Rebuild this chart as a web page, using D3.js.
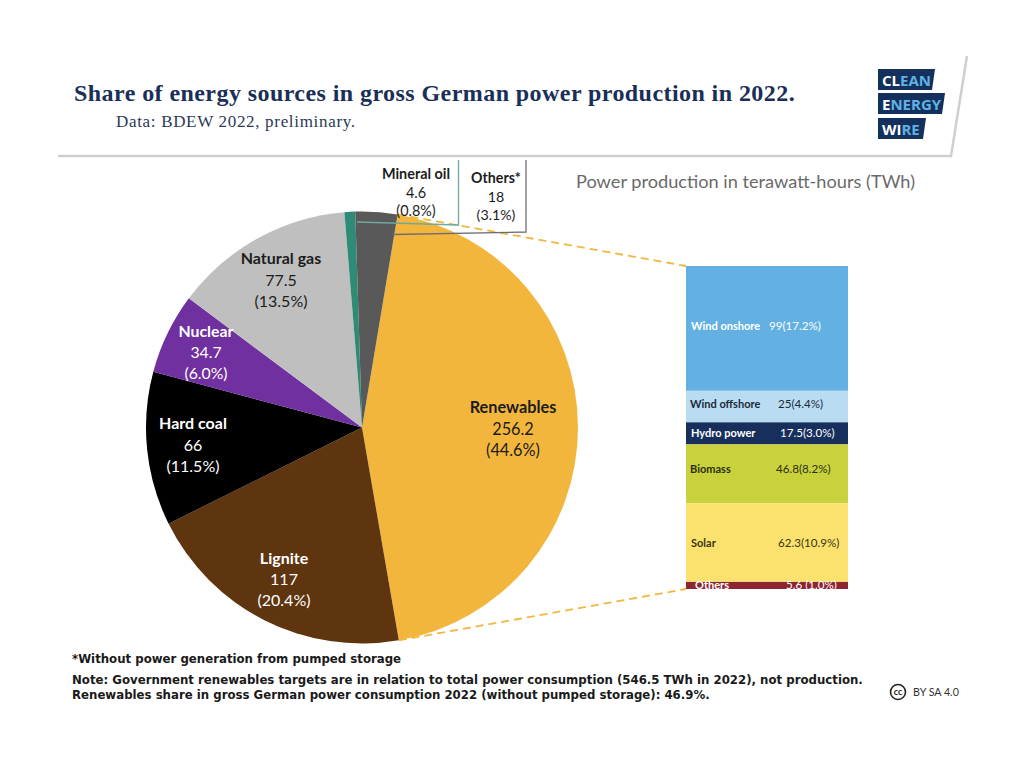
<!DOCTYPE html>
<html>
<head>
<meta charset="utf-8">
<title>Share of energy sources in gross German power production in 2022</title>
<script src="https://cdn.jsdelivr.net/npm/d3@7/dist/d3.min.js"></script>
<style>
	html, body { margin: 0; padding: 0; background: #fff; }
	svg { display: block; }
	text { font-family: Lato, "Open Sans", sans-serif; }
</style>
</head>
<body>
<div id="chart"></div>
<script>
'use strict';

// pie, clockwise from the top
var sources = ['Renewables', 'Lignite', 'Hard coal', 'Nuclear', 'Natural gas', 'Mineral oil', 'Others*'];
var sourceValues = [256.2, 117, 66, 34.7, 77.5, 4.6, 18];
var sourceValueLabels = ['256.2', '117', '66', '34.7', '77.5', '4.6', '18'];
var sourceShares = ['(44.6%)', '(20.4%)', '(11.5%)', '(6.0%)', '(13.5%)', '(0.8%)', '(3.1%)'];
var sourceColors = ['#f3b63c', '#5f3510', '#000000', '#7030a0', '#bfbfbf', '#2f8b76', '#595959'];

// renewables breakdown, top to bottom
var renewables = ['Wind onshore', 'Wind offshore', 'Hydro power', 'Biomass', 'Solar', 'Others'];
var renewableValues = [99, 25, 17.5, 46.8, 62.3, 5.6];
var renewableLabels = ['99(17.2%)', '25(4.4%)', '17.5(3.0%)', '46.8(8.2%)', '62.3(10.9%)', '5.6 (1.0%)'];
var renewableColors = ['#62b1e2', '#b9dcf1', '#172f5c', '#c9d23c', '#fbe26e', '#8e2632'];
var renewableText = ['#ffffff', '#1b2a3a', '#ffffff', '#2b2f10', '#3a3410', '#ffffff'];

var width = 1024, height = 778;
var pieCx = 362, pieCy = 427.5, pieR = 216;
var barX = 686, barW = 162, barTop = 266, barBottom = 589;
var rad = Math.PI / 180;

var svg = d3.select('#chart').append('svg')
	.attr('width', width)
	.attr('height', height);

// header frame
svg.append('path')
	.attr('d', 'M58,156 L951,156 L967,56')
	.attr('fill', 'none')
	.attr('stroke', '#cfcfcf')
	.attr('stroke-width', 2.5);

svg.append('text')
	.attr('x', 74).attr('y', 101)
	.style('font-family', '"Liberation Serif", serif')
	.style('font-weight', 'bold')
	.style('font-size', '24px')
	.style('letter-spacing', '0.43px')
	.attr('fill', '#1a2f57')
	.text('Share of energy sources in gross German power production in 2022.');

svg.append('text')
	.attr('x', 116).attr('y', 127)
	.style('font-family', '"Liberation Serif", serif')
	.style('font-size', '17px')
	.style('letter-spacing', '0.68px')
	.attr('fill', '#2b3a55')
	.text('Data: BDEW 2022, preliminary.');

// logo
var logoLines = [['CL', 'EAN'], ['E', 'NERGY'], ['WI', 'RE']];
var logoRight = [935, 945, 926];
var logoTop = [69, 93, 118];
var logo = svg.append('g');
logoLines.forEach(function(l, i) {
	var y = logoTop[i], r = logoRight[i];
	logo.append('path')
		.attr('d', 'M878,' + y + 'L' + r + ',' + y + 'L' + (r - 3) + ',' + (y + 21) + 'L878,' + (y + 21) + 'Z')
		.attr('fill', '#14305c');
	var t = logo.append('text')
		.attr('x', 882).attr('y', y + 16.5)
		.style('font-family', '"Open Sans", sans-serif')
		.style('font-weight', 'bold')
		.style('font-size', '15px');
	t.append('tspan').attr('fill', '#ffffff').text(l[0]);
	t.append('tspan').attr('fill', '#5fb2e3').text(l[1]);
});

// pie
var pie = d3.pie()
	.sort(null)
	.startAngle(9.5 * rad)
	.endAngle(369.5 * rad);
var arc = d3.arc().innerRadius(0).outerRadius(pieR);

var slices = pie(sourceValues);

svg.append('g')
	.attr('transform', 'translate(' + pieCx + ',' + pieCy + ')')
	.selectAll('path')
	.data(slices)
	.join('path')
	.attr('d', arc)
	.attr('fill', function(d, i) { return sourceColors[i]; });

// dashed zoom lines, from the renewables slice edges to the bar corners
var y = d3.scaleLinear()
	.domain([0, d3.sum(renewableValues)])
	.range([barTop, barBottom]);

var edgeX = function(a) { return pieCx + pieR * Math.sin(a); };
var edgeY = function(a) { return pieCy - pieR * Math.cos(a); };
var zoomLines = [
	[edgeX(slices[0].startAngle), edgeY(slices[0].startAngle), barX, y.range()[0]],
	[edgeX(slices[0].endAngle), edgeY(slices[0].endAngle), barX, y.range()[1]]
];
svg.append('g')
	.selectAll('line')
	.data(zoomLines)
	.join('line')
	.attr('x1', function(d) { return d[0]; })
	.attr('y1', function(d) { return d[1]; })
	.attr('x2', function(d) { return d[2]; })
	.attr('y2', function(d) { return d[3]; })
	.attr('stroke', '#f0b840')
	.attr('stroke-width', 1.8)
	.attr('stroke-dasharray', '8 5');

// callout brackets for the two thin slices
svg.append('path')
	.attr('d', 'M458.5,160 L458.5,225 L357,222')
	.attr('fill', 'none')
	.attr('stroke', '#6fa89c')
	.attr('stroke-width', 1.3);
svg.append('path')
	.attr('d', 'M526,160 L526,232 L393,234.5')
	.attr('fill', 'none')
	.attr('stroke', '#6d6d78')
	.attr('stroke-width', 1.3);

// pie labels: name, value, share
var labelX = [513, 284, 193, 206, 281, 416, 496];
var labelY = [413, 564, 429, 337, 264, 179, 183];
var labelStep = [21.5, 21, 21.5, 21, 21.5, 18.5, 18.5];
var labelSize = [16.3, 16, 16, 15.8, 16, 14.4, 14.2];
var labelFill = ['#1c1c1c', '#ffffff', '#ffffff', '#ffffff', '#1c1c1c', '#1c1c1c', '#1c1c1c'];

sources.forEach(function(name, i) {
	var g = svg.append('g')
		.attr('text-anchor', 'middle')
		.attr('fill', labelFill[i])
		.style('font-size', labelSize[i] + 'px');
	g.append('text').attr('x', labelX[i]).attr('y', labelY[i])
		.style('font-weight', 'bold').text(name);
	g.append('text').attr('x', labelX[i]).attr('y', labelY[i] + labelStep[i])
		.text(sourceValueLabels[i]);
	g.append('text').attr('x', labelX[i]).attr('y', labelY[i] + 2 * labelStep[i])
		.text(sourceShares[i]);
});

svg.append('text')
	.attr('x', 576).attr('y', 188)
	.style('font-size', '18.2px')
	.attr('fill', '#6a6a6a')
	.text('Power production in terawatt-hours (TWh)');

// stacked bar
var stack = [];
renewableValues.reduce(function(sum, v, i) {
	stack.push({ i: i, y0: sum, y1: sum + v });
	return sum + v;
}, 0);

svg.append('g')
	.selectAll('rect')
	.data(stack)
	.join('rect')
	.attr('x', barX)
	.attr('width', barW)
	.attr('y', function(d) { return y(d.y0); })
	.attr('height', function(d) { return y(d.y1) - y(d.y0); })
	.attr('fill', function(d) { return renewableColors[d.i]; });

var nameX = [691, 690, 691, 690, 691, 695];
var nameY = [330, 408, 437, 473, 547, 589];
var valueX = [769, 778, 780, 776, 778, 786];

renewables.forEach(function(name, i) {
	svg.append('text')
		.attr('x', nameX[i]).attr('y', nameY[i])
		.attr('fill', renewableText[i])
		.style('font-size', '11px')
		.style('font-weight', 'bold')
		.text(name);
	svg.append('text')
		.attr('x', valueX[i]).attr('y', nameY[i])
		.attr('fill', renewableText[i])
		.style('font-size', '11.6px')
		.text(renewableLabels[i]);
});

// footnotes
var notes = [
	'*Without power generation from pumped storage',
	'Note: Government renewables targets are in relation to total power consumption (546.5 TWh in 2022), not production.',
	'Renewables share in gross German power consumption 2022 (without pumped storage): 46.9%.'
];
var noteY = [663, 684, 699];
svg.append('g')
	.selectAll('text')
	.data(notes)
	.join('text')
	.attr('x', 72)
	.attr('y', function(d, i) { return noteY[i]; })
	.style('font-family', '"DejaVu Sans", sans-serif')
	.style('font-weight', 'bold')
	.style('font-size', '11.75px')
	.attr('fill', '#1a1a1a')
	.text(function(d) { return d; });

// licence badge
svg.append('circle')
	.attr('cx', 898).attr('cy', 692).attr('r', 7.5)
	.attr('fill', 'none').attr('stroke', '#222').attr('stroke-width', 1.6);
svg.append('text')
	.attr('x', 898).attr('y', 695)
	.attr('text-anchor', 'middle')
	.style('font-size', '9px').style('font-weight', 'bold')
	.attr('fill', '#222')
	.text('cc');
svg.append('text')
	.attr('x', 913).attr('y', 696)
	.style('font-size', '10.7px')
	.attr('fill', '#333')
	.text('BY SA 4.0');
</script>
</body>
</html>
